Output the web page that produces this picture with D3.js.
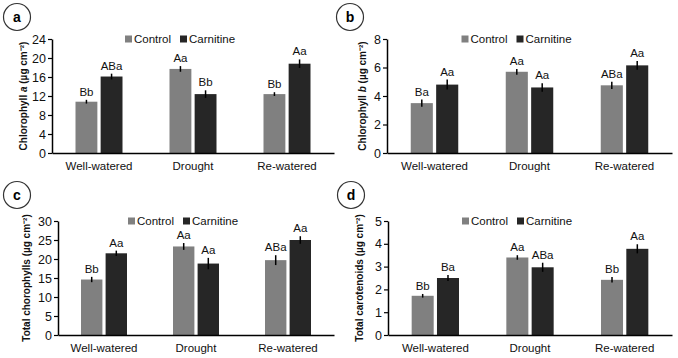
<!DOCTYPE html>
<html>
<head>
<meta charset="utf-8">
<script src="https://cdn.jsdelivr.net/npm/d3@7"></script>
<style>
  body { margin: 0; background: #fff; }
  svg { font-family: "Liberation Sans", Arial, sans-serif; }
</style>
</head>
<body>
<div class="chart"></div>
<script>
const W = 678, H = 358

const groups = ['Well-watered', 'Drought', 'Re-watered']
const series = ['Control', 'Carnitine']
const colors = ['#808080', '#262626']

// panel a: chlorophyll a
const chlACtrl = [10.8, 17.7, 12.4]
const chlACarn = [16.1, 12.4, 18.8]
const chlACtrlErr = [0.4, 0.6, 0.4]
const chlACarnErr = [0.6, 0.8, 0.9]
const chlACtrlLab = ['Bb', 'Aa', 'Bb']
const chlACarnLab = ['ABa', 'Bb', 'Aa']
const chlATicks = [0, 4, 8, 12, 16, 20, 24]

// panel b: chlorophyll b
const chlBCtrl = [3.5, 5.7, 4.75]
const chlBCarn = [4.8, 4.6, 6.15]
const chlBCtrlErr = [0.25, 0.2, 0.25]
const chlBCarnErr = [0.35, 0.3, 0.3]
const chlBCtrlLab = ['Ba', 'Aa', 'ABa']
const chlBCarnLab = ['Aa', 'Aa', 'Aa']
const chlBTicks = [0, 2, 4, 6, 8]

// panel c: total chlorophylls
const totCtrl = [14.6, 23.3, 19.7]
const totCarn = [21.5, 18.8, 25.0]
const totCtrlErr = [0.7, 0.9, 1.3]
const totCarnErr = [0.7, 1.5, 1.0]
const totCtrlLab = ['Bb', 'Aa', 'ABa']
const totCarnLab = ['Aa', 'Aa', 'Aa']
const totTicks = [0, 5, 10, 15, 20, 25, 30]

// panel d: total carotenoids
const carCtrl = [1.72, 3.4, 2.42]
const carCarn = [2.5, 2.97, 3.78]
const carCtrlErr = [0.08, 0.1, 0.12]
const carCarnErr = [0.13, 0.2, 0.2]
const carCtrlLab = ['Bb', 'Aa', 'Bb']
const carCarnLab = ['Ba', 'ABa', 'Aa']
const carTicks = [0, 1, 2, 3, 4, 5]

const panels = [
  {letter: 'a', cx: 17, cy: 17, left: 52, right: 334, top: 39, bottom: 153, titleX: 27,
   title: ['Chlorophyll  ', 'a', ' (µg cm⁻²)'],
   vals: [chlACtrl, chlACarn], errs: [chlACtrlErr, chlACarnErr], labs: [chlACtrlLab, chlACarnLab], ticks: chlATicks},
  {letter: 'b', cx: 350, cy: 17, left: 387, right: 672, top: 39, bottom: 153, titleX: 366,
   title: ['Chlorophyll  ', 'b', ' (µg cm⁻²)'],
   vals: [chlBCtrl, chlBCarn], errs: [chlBCtrlErr, chlBCarnErr], labs: [chlBCtrlLab, chlBCarnLab], ticks: chlBTicks},
  {letter: 'c', cx: 17, cy: 195, left: 58, right: 334, top: 221, bottom: 335, titleX: 30,
   title: ['Total chorophylls (µg cm⁻²)'],
   vals: [totCtrl, totCarn], errs: [totCtrlErr, totCarnErr], labs: [totCtrlLab, totCarnLab], ticks: totTicks},
  {letter: 'd', cx: 351, cy: 195, left: 388, right: 672, top: 221, bottom: 335, titleX: 363,
   title: ['Total carotenoids  (µg cm⁻²)'],
   vals: [carCtrl, carCarn], errs: [carCtrlErr, carCarnErr], labs: [carCtrlLab, carCarnLab], ticks: carTicks}
]

const svg = d3.select('.chart')
  .append('svg')
  .attr('width', W)
  .attr('height', H)

panels.forEach(p => drawPanel(p))

function drawPanel(p) {
  const g = svg.append('g').attr('class', 'panel')

  // letter in a circle
  g.append('circle')
    .attr('cx', p.cx).attr('cy', p.cy).attr('r', 13.5)
    .attr('fill', 'none').attr('stroke', '#333').attr('stroke-width', 1.2)
  g.append('text')
    .attr('x', p.cx).attr('y', p.cy + 5)
    .attr('text-anchor', 'middle')
    .style('font-size', '14px').style('font-weight', 'bold')
    .text(p.letter)

  const x0 = d3.scaleBand()
    .domain(groups)
    .range([p.left, p.right])
    .paddingInner(0.5)
    .paddingOuter(0.25)

  const x1 = d3.scaleBand()
    .domain(series)
    .range([0, x0.bandwidth()])
    .paddingInner(0.13)

  const y = d3.scaleLinear()
    .domain([0, d3.max(p.ticks)])
    .range([p.bottom, p.top])

  // bars
  series.forEach((s, si) => {
    const rows = groups.map((gr, i) => ({gr, v: p.vals[si][i], e: p.errs[si][i], lab: p.labs[si][i]}))
    const sg = g.append('g')

    sg.selectAll('rect')
      .data(rows)
      .enter().append('rect')
        .attr('x', d => x0(d.gr) + x1(s))
        .attr('y', d => y(d.v))
        .attr('width', x1.bandwidth())
        .attr('height', d => y(0) - y(d.v))
        .attr('fill', colors[si])

    sg.selectAll('line')
      .data(rows)
      .enter().append('line')
        .attr('x1', d => x0(d.gr) + x1(s) + x1.bandwidth() / 2)
        .attr('x2', d => x0(d.gr) + x1(s) + x1.bandwidth() / 2)
        .attr('y1', d => y(d.v - d.e))
        .attr('y2', d => y(d.v + d.e))
        .attr('stroke', '#000')
        .attr('stroke-width', 1.5)

    sg.selectAll('text')
      .data(rows)
      .enter().append('text')
        .attr('x', d => x0(d.gr) + x1(s) + x1.bandwidth() / 2)
        .attr('y', d => y(d.v + d.e) - 4)
        .attr('text-anchor', 'middle')
        .style('font-size', '11.5px')
        .attr('fill', '#111')
        .text(d => d.lab)
  })

  // y axis
  const yAxis = g.append('g')
    .attr('transform', `translate(${p.left},0)`)
    .call(d3.axisLeft(y).tickValues(p.ticks).tickFormat(d3.format('d'))
      .tickSize(4).tickSizeOuter(0).tickPadding(2))
  yAxis.select('.domain').attr('stroke', '#000').attr('stroke-width', 1.5)
  yAxis.selectAll('.tick line').attr('stroke', '#000').attr('stroke-width', 1.2)
  yAxis.selectAll('.tick text')
    .style('font-size', '12.5px')
    .style('font-family', '"Liberation Sans", Arial, sans-serif')
    .attr('fill', '#111')

  // x axis
  const xAxis = g.append('g')
    .attr('transform', `translate(0,${p.bottom})`)
    .call(d3.axisBottom(x0).tickSize(0).tickSizeOuter(0).tickPadding(9))
  xAxis.select('.domain').attr('stroke', '#000').attr('stroke-width', 1.5)
  xAxis.selectAll('.tick text')
    .style('font-size', '11.5px')
    .style('font-family', '"Liberation Sans", Arial, sans-serif')
    .attr('fill', '#111')

  // y title
  const title = g.append('text')
    .attr('transform', `translate(${p.titleX},${(p.top + p.bottom) / 2}) rotate(-90)`)
    .attr('text-anchor', 'middle')
    .style('font-size', '10px')
    .style('font-weight', 'bold')
    .attr('fill', '#111')
  p.title.forEach((t, i) => {
    title.append('tspan')
      .style('font-style', (p.title.length > 1 && i === 1) ? 'italic' : 'normal')
      .text(t)
  })

  // legend
  const lx = (p.left + p.right) / 2 - 68
  const legend = g.append('g')
    .attr('transform', `translate(${lx},${p.top})`)
  const items = legend.selectAll('g')
    .data(series)
    .enter().append('g')
      .attr('transform', (d, i) => `translate(${i * 55},0)`)
  items.append('rect')
    .attr('x', 0).attr('y', -3.5)
    .attr('width', 7).attr('height', 7)
    .attr('fill', (d, i) => colors[i])
  items.append('text')
    .attr('x', 9).attr('y', 4)
    .style('font-size', '11.5px')
    .attr('fill', '#111')
    .text(d => d)
}
</script>
</body>
</html>
